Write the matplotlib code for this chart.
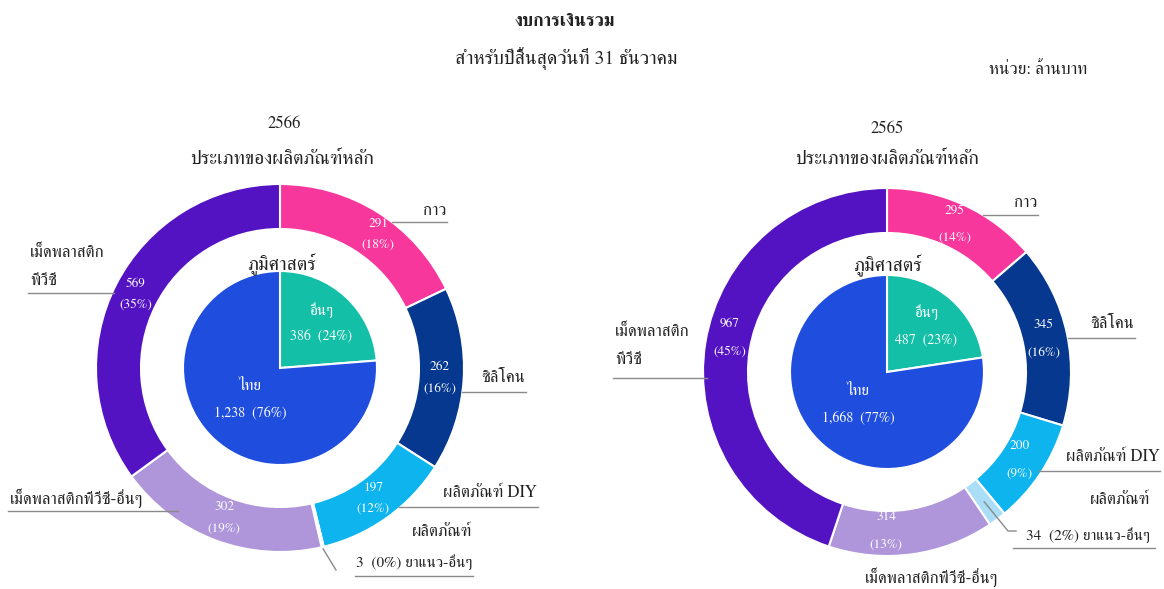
import numpy as np
import matplotlib
matplotlib.use("Agg")
import matplotlib.pyplot as plt

# ---- data (million baht) ----
product_names = ["กาว", "ซิลิโคน", "ผลิตภัณฑ์ DIY", "ผลิตภัณฑ์ยาแนว-อื่นๆ",
                 "เม็ดพลาสติกพีวีซี-อื่นๆ", "เม็ดพลาสติกพีวีซี"]
products_2566 = [291, 262, 197, 3, 302, 569]
products_2566_pct = [18, 16, 12, 0, 19, 35]
products_2565 = [295, 345, 200, 34, 314, 967]
products_2565_pct = [14, 16, 9, 2, 13, 45]

geo_names = ["อื่นๆ", "ไทย"]
geo_2566 = [386, 1238]
geo_2566_pct = [24, 76]
geo_2565 = [487, 1668]
geo_2565_pct = [23, 77]

product_colors = ["#F8379C", "#07388F", "#0DB4EE", "#A9DEF6", "#AF95DA", "#5313C2"]
geo_colors = ["#13BFA6", "#1F4EDF"]

W, H = 1164, 589
FONT = ["FreeSerif", "DejaVu Serif"]
LINE = "#8a8a8a"
CAT_SIZE = 12

fig = plt.figure(figsize=(W / 100, H / 100), dpi=100)
ax = fig.add_axes([0, 0, 1, 1])


def Y(v):
    return H - v


def txt(x, y, s, size=11.5, ha="center", color="#222222", weight="normal"):
    ax.text(x, Y(y), s, ha=ha, va="center", fontsize=size, color=color,
            family=FONT, fontweight=weight, zorder=5)


def donut(cx, cy, values, pcts, inner_vals, inner_pcts, layout):
    R, ring, r_in = 184, 45, 97
    wedges, _ = ax.pie(values, radius=R, center=(cx, Y(cy)), startangle=90,
                       counterclock=False, colors=product_colors,
                       wedgeprops=dict(width=ring, edgecolor="white", linewidth=1.5))
    iw, _ = ax.pie(inner_vals, radius=r_in, center=(cx, Y(cy)), startangle=90,
                   counterclock=False, colors=geo_colors,
                   wedgeprops=dict(edgecolor="white", linewidth=1.5))

    # value labels inside the ring
    for i, (w, v, p) in enumerate(zip(wedges, values, pcts)):
        if v < 50:
            continue
        mid = np.deg2rad((w.theta1 + w.theta2) / 2 + layout["val_nudge"][i][0])
        rr = layout["val_nudge"][i][1]
        x = cx + rr * np.cos(mid)
        y = cy - rr * np.sin(mid)
        gap = layout["val_gap"] / 2
        txt(x, y - gap, f"{v:,}", size=9.5, color="white")
        txt(x, y + gap, f"({p}%)", size=9.5, color="white")

    # inner pie labels
    for w, name, v, p, rr in zip(iw, geo_names, inner_vals, inner_pcts, (60, 44)):
        mid = np.deg2rad((w.theta1 + w.theta2) / 2)
        x = cx + rr * np.cos(mid)
        y = cy - rr * np.sin(mid)
        txt(x, y - 14, name, size=11, color="white")
        txt(x, y + 13, f"{v:,}  ({p}%)", size=10, color="white")

    # category labels with leader lines
    for i, lab in enumerate(layout["labels"]):
        for (s, x, y, ha, size) in lab["text"]:
            txt(x, y, s, size=size, ha=ha)
        if "hline" in lab:
            ly, x_end, inset = lab["hline"]
            dy = ly - cy
            dx = np.sqrt(max(R ** 2 - dy ** 2, 0)) - inset
            x_start = cx + dx if x_end > cx else cx - dx
            ax.plot([x_start, x_end], [Y(ly), Y(ly)], color=LINE, lw=1, zorder=3)
        if "leader" in lab:
            w = wedges[i]
            mid = np.deg2rad((w.theta1 + w.theta2) / 2)
            r0 = lab["leader"]["r"]
            pts = [(cx + r0 * np.cos(mid), cy - r0 * np.sin(mid))] + lab["leader"]["pts"]
            ax.plot([p[0] for p in pts], [Y(p[1]) for p in pts], color=LINE, lw=1, zorder=3)
        if "uline" in lab:
            x0, x1, ly = lab["uline"]
            ax.plot([x0, x1], [Y(ly), Y(ly)], color=LINE, lw=1, zorder=3)


S = CAT_SIZE
layout_2566 = {
    "val_gap": 21,
    "val_nudge": [(-4, 166), (0, 160), (0, 160), (0, 160), (0, 160), (0, 162)],
    "labels": [
        {"text": [("กาว", 446, 211, "right", S)], "hline": (222, 447, 0)},
        {"text": [("ซิลิโคน", 525, 378, "right", S)], "hline": (392, 526, 0)},
        {"text": [("ผลิตภัณฑ์ DIY", 537, 493, "right", S)], "hline": (507, 538, 2)},
        {"text": [("ผลิตภัณฑ์", 472, 532, "right", S),
                  ("3  (0%) ยาแนว-อื่นๆ", 472, 562, "right", 11)],
         "leader": {"r": 186, "pts": [(336, 570)]}, "uline": (355, 473, 576)},
        {"text": [("เม็ดพลาสติกพีวีซี-อื่นๆ", 10, 498, "left", S)], "hline": (511, 8, 14)},
        {"text": [("เม็ดพลาสติก", 30, 253, "left", S), ("พีวีซี", 30, 281, "left", S)],
         "hline": (293, 28, 2)},
    ],
}

layout_2565 = {
    "val_gap": 27,
    "val_nudge": [(0, 162), (0, 160), (0, 159), (0, 160), (-8, 159), (-3, 161)],
    "labels": [
        {"text": [("กาว", 1037, 203, "right", S)], "hline": (215, 1038, 0)},
        {"text": [("ซิลิโคน", 1134, 324, "right", S)], "hline": (338, 1135, 0)},
        {"text": [("ผลิตภัณฑ์ DIY", 1160, 457, "right", S)], "hline": (471, 1160, 4)},
        {"text": [("ผลิตภัณฑ์", 1150, 500, "right", S),
                  ("34  (2%) ยาแนว-อื่นๆ", 1150, 535, "right", 11)],
         "leader": {"r": 162, "pts": [(1008, 531), (1016, 531)]},
         "uline": (1013, 1155, 548)},
        {"text": [("เม็ดพลาสติกพีวีซี-อื่นๆ", 932, 577, "center", S)]},
        {"text": [("เม็ดพลาสติก", 615, 332, "left", S), ("พีวีซี", 615, 360, "left", S)],
         "hline": (378, 613, 4)},
    ],
}

donut(280, 368, products_2566, products_2566_pct, geo_2566, geo_2566_pct, layout_2566)
donut(887, 372, products_2565, products_2565_pct, geo_2565, geo_2565_pct, layout_2565)

# headings
txt(565, 21, "งบการเงินรวม", size=12.8, weight="bold")
txt(566, 58, "สำหรับปีสิ้นสุดวันที่ 31 ธันวาคม", size=14)
txt(1087, 70, "หน่วย: ล้านบาท", size=12.5, ha="right")

txt(284, 124, "2566", size=12)
txt(282, 159, "ประเภทของผลิตภัณฑ์หลัก", size=14)
txt(281, 264, "ภูมิศาสตร์", size=14)

txt(887, 129, "2565", size=12)
txt(887, 159, "ประเภทของผลิตภัณฑ์หลัก", size=14)
txt(887, 265, "ภูมิศาสตร์", size=14)

ax.set_xlim(0, W)
ax.set_ylim(0, H)
ax.set_aspect("equal")
ax.axis("off")

fig.savefig("out.png", dpi=100, facecolor="white")
